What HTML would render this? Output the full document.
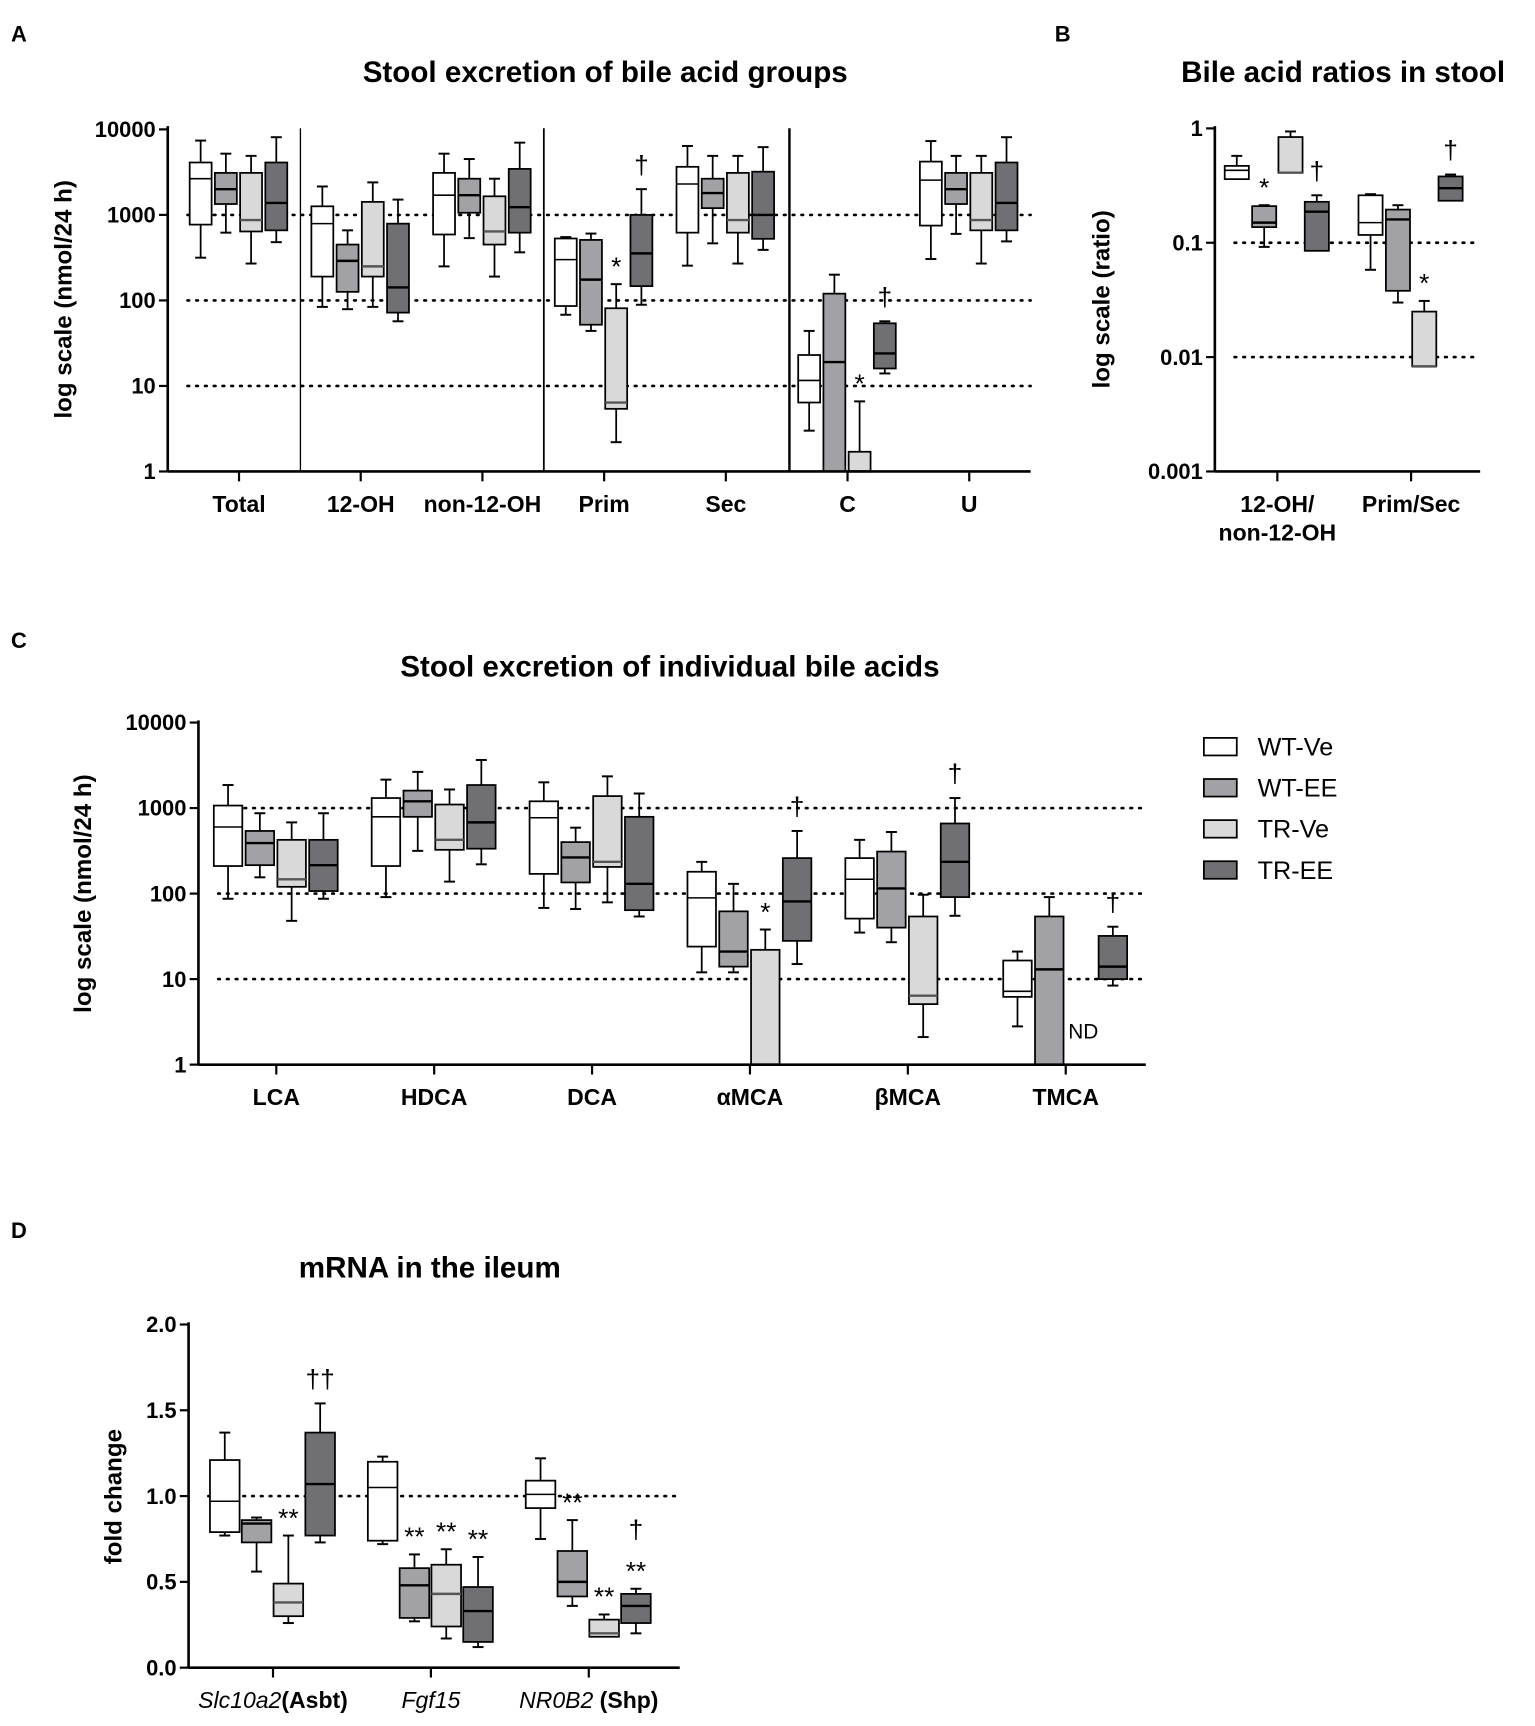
<!DOCTYPE html>
<html><head><meta charset="utf-8"><style>
html,body{margin:0;padding:0;background:#fff;}
svg{display:block;font-family:"Liberation Sans",Arial,sans-serif;}
</style></head><body>
<svg id="fig" width="1535" height="1726" viewBox="0 0 1400 1574.2" xmlns="http://www.w3.org/2000/svg">
<g id="static" font-weight="bold" fill="#000">
<text x="10" y="38" font-size="20">A</text>
<text x="962" y="38" font-size="20">B</text>
<text x="10" y="591" font-size="20">C</text>
<text x="10" y="1129" font-size="20">D</text>
<text x="552" y="75" font-size="27" text-anchor="middle">Stool excretion of bile acid groups</text>
<text x="1225" y="75" font-size="27" text-anchor="middle">Bile acid ratios in stool</text>
<text x="611" y="617" font-size="27" text-anchor="middle">Stool excretion of individual bile acids</text>
<text x="392" y="1165" font-size="27" text-anchor="middle">mRNA in the ileum</text>
<text transform="translate(65,273) rotate(-90)" font-size="22" text-anchor="middle">log scale (nmol/24 h)</text>
<text transform="translate(1012,273) rotate(-90)" font-size="22" text-anchor="middle">log scale (ratio)</text>
<text transform="translate(83,815) rotate(-90)" font-size="22" text-anchor="middle">log scale (nmol/24 h)</text>
<text transform="translate(111,1365) rotate(-90)" font-size="22" text-anchor="middle">fold change</text>
</g>
<g id="plots"></g>
</svg>
<script>
// ---------- Panel A data [min,q1,median,q3,max] ----------
const aCategories = ["Total","12-OH","non-12-OH","Prim","Sec","C","U"];
const aWtVe = [[316,770,2650,4100,7400],[84,190,790,1260,2150],[250,590,1700,3100,5200],[68,86,300,530,550],[255,620,2300,3650,6400],[3,6.4,11.6,23,44],[305,750,2550,4200,7300]];
const aWtEe = [[620,1340,2000,3100,5200],[79,126,290,450,660],[535,1060,1700,2650,4500],[44,52,175,510,605],[465,1200,1800,2650,4900],[0.5,0.5,19,120,200],[600,1340,2000,3100,4900]];
const aTrVe = [[270,640,870,3100,4900],[84,190,250,1420,2400],[190,450,640,1650,2650],[2.2,5.4,6.4,81,155],[270,620,870,3100,4900],[0.3,0.3,0.3,1.7,6.6],[270,660,870,3100,4900]];
const aTrEe = [[480,660,1380,4100,8100],[57,72,142,790,1510],[365,620,1230,3450,7000],[89,147,355,1000,2000],[390,525,1000,3200,6200],[14,16,24,54,57],[490,660,1380,4100,8100]];
const aTicks = [1,10,100,1000,10000];
const aMarks = [[3,2,"*",0],[3,3,"†",0],[5,2,"*",0],[5,3,"†",0]]; // [category, series, symbol, extra lift]

// ---------- Panel B ----------
const bCategories = ["12-OH/|non-12-OH","Prim/Sec"];
const bWtVe = [[0.36,0.36,0.43,0.47,0.575],[0.058,0.117,0.15,0.26,0.266]];
const bWtEe = [[0.092,0.137,0.15,0.209,0.213],[0.030,0.038,0.16,0.195,0.213]];
const bTrVe = [[0.41,0.41,0.41,0.84,0.94],[0.0083,0.0083,0.0083,0.025,0.031]];
const bTrEe = [[0.085,0.085,0.187,0.228,0.26],[0.233,0.233,0.30,0.38,0.395]];
const bTicks = [0.001,0.01,0.1,1];
const bTickLabels = ["0.001","0.01","0.1","1"];
const bMarks = [[0,1,"*",0],[0,3,"†",0],[1,2,"*",0],[1,3,"†",0]];

// ---------- Panel C ----------
const cCategories = ["LCA","HDCA","DCA","αMCA","βMCA","TMCA"];
const cWtVe = [[87,210,600,1070,1860],[91,210,790,1310,2150],[68,170,770,1200,2000],[12,24,89,180,235],[35,51,147,260,425],[2.8,6.2,7.2,16.5,21]];
const cWtEe = [[155,215,390,540,870],[316,790,1200,1600,2650],[66,135,265,400,590],[12,14,21,62,130],[27,40,115,310,525],[0.5,0.5,13,54,91]];
const cTrVe = [[48,120,147,425,680],[138,325,425,1100,1650],[79,205,235,1380,2350],[0.3,0.3,0.3,22,38],[2.1,5.1,6.4,54,97],null];
const cTrEe = [[87,107,215,425,870],[220,335,680,1860,3650],[54,64,130,790,1480],[15,28,81,260,540],[55,91,235,660,1310],[8.4,10,14,32,41]];
const cTicks = [1,10,100,1000,10000];
const cMarks = [[3,2,"*",0],[3,3,"†",0],[4,3,"†",0],[5,3,"†",0]];

// ---------- Panel D ----------
const dCategories = ["Slc10a2","Fgf15","NR0B2"];
const dSuffix = ["(Asbt)",""," (Shp)"];
const dWtVe = [[0.77,0.79,0.97,1.21,1.37],[0.72,0.74,1.05,1.2,1.23],[0.75,0.93,1.01,1.09,1.22]];
const dWtEe = [[0.56,0.73,0.84,0.86,0.875],[0.27,0.29,0.48,0.58,0.66],[0.36,0.415,0.5,0.68,0.86]];
const dTrVe = [[0.26,0.30,0.38,0.49,0.77],[0.17,0.24,0.43,0.6,0.69],[0.18,0.18,0.2,0.28,0.31]];
const dTrEe = [[0.73,0.77,1.07,1.37,1.54],[0.12,0.15,0.33,0.47,0.645],[0.2,0.26,0.36,0.43,0.46]];
const dTicks = [0,0.5,1,1.5,2];
const dTickLabels = ["0.0","0.5","1.0","1.5","2.0"];
const dMarks = [[0,2,"**",0],[0,3,"††",0],[1,1,"**",0],[1,2,"**",0],[1,3,"**",0],[2,1,"**",0],[2,2,"**",0],[2,3,"**",0],[2,3,"†",32]];

const seriesNames = ["WT-Ve","WT-EE","TR-Ve","TR-EE"];
const fills = ["#ffffff","#a2a2a6","#d9d9d9","#707074"];
const NS = "http://www.w3.org/2000/svg";
const root = document.getElementById("plots");

function mk(tag, attrs, parent){
  const e = document.createElementNS(NS, tag);
  for (const k in attrs) e.setAttribute(k, attrs[k]);
  (parent||root).appendChild(e);
  return e;
}
function txt(x,y,s,size,anchor,parent,weight){
  const t = mk("text",{x:x,y:y,"font-size":size,"text-anchor":anchor||"middle","font-weight":weight||"bold"},parent);
  t.textContent = s; return t;
}

function panel(cfg){
  const g = mk("g",{});
  
  
  const y = cfg.y, x = cfg.x;
  cfg.refs.forEach(function(v){
    const l = mk("line",{x1:cfg.x0+18,x2:cfg.x1,y1:y(v),y2:y(v),stroke:"#000","stroke-width":2.4,"stroke-dasharray":"1.5 6.5","stroke-linecap":"round"},g);
    
    
  });
  (cfg.seps||[]).forEach(function(s){
    const l = mk("line",{x1:s[0],x2:s[0],y1:cfg.yTop,y2:cfg.yBot,stroke:"#000","stroke-width":s[1]},g);
    
    
  });
  cfg.series.forEach(function(ser, si){
    ser.forEach(function(d, ci){
      if(!d) return;
      const cx = x(ci) + cfg.offs[si], w = cfg.bw;
      const bg = mk("g",{},g);
      
      
      const ymin=y(d[0]), yq1=y(d[1]), ymed=y(d[2]), yq3=y(d[3]), ymax=y(d[4]);
      mk("line",{x1:cx,x2:cx,y1:ymax,y2:yq3,stroke:"#000","stroke-width":1.6},bg);
      mk("line",{x1:cx-5,x2:cx+5,y1:ymax,y2:ymax,stroke:"#000","stroke-width":1.8},bg);
      if(ymin>yq1+0.5){
        mk("line",{x1:cx,x2:cx,y1:yq1,y2:ymin,stroke:"#000","stroke-width":1.6},bg);
        mk("line",{x1:cx-5,x2:cx+5,y1:ymin,y2:ymin,stroke:"#000","stroke-width":1.8},bg);
      }
      mk("rect",{x:cx-w/2,y:yq3,width:w,height:Math.max(1,yq1-yq3),fill:fills[si],stroke:"#000","stroke-width":1.6},bg);
      mk("line",{x1:cx-w/2,x2:cx+w/2,y1:ymed,y2:ymed,stroke:si==2?"#555":"#000","stroke-width":si==0?1.4:2.2},bg);
    });
  });
  cfg.marks.forEach(function(m){
    const d = cfg.series[m[1]][m[0]];
    const cx = x(m[0]) + cfg.offs[m[1]];
    const t = txt(cx, y(d[4]) - (m[2].indexOf("†")>=0?14:8) - m[3], m[2], 24, "middle", g, "normal");
    
    
  });
  mk("line",{x1:cfg.x0,x2:cfg.x0,y1:cfg.yTop-2,y2:cfg.yBot,stroke:"#000","stroke-width":2.4},g);
  mk("line",{x1:cfg.x0,x2:cfg.x1,y1:cfg.yBot,y2:cfg.yBot,stroke:"#000","stroke-width":2.4},g);
  cfg.ticks.forEach(function(v,i){
    mk("line",{x1:cfg.x0-8,x2:cfg.x0,y1:y(v),y2:y(v),stroke:"#000","stroke-width":2},g);
    const t = txt(cfg.x0-11, y(v)+7, cfg.tickLabels? cfg.tickLabels[i] : String(v), 20, "end", g);
    
    
  });
  cfg.cats.forEach(function(c,i){
    mk("line",{x1:x(i),x2:x(i),y1:cfg.yBot,y2:cfg.yBot+9,stroke:"#000","stroke-width":2},g);
    const t = cfg.catLabel ? cfg.catLabel(c,i,g) : null;
    if(!t){
      c.split("|").forEach(function(p,j){
        const tt = txt(x(i), cfg.yBot+37+j*26, p, 21, "middle", g);
        
        
      });
    }
  });
}

function logY(bot, dec, base){ return function(v){ return Math.min(bot, bot - dec*(Math.log10(v)-base)); }; }

panel({name:"panel-a", cats:aCategories, series:[aWtVe,aWtEe,aTrVe,aTrEe],
  x:function(i){return 218+111*i;}, y:logY(430,78,0), offs:[-35,-12,11,34], bw:20,
  x0:153,x1:940,yTop:117,yBot:430, refs:[10,100,1000], ticks:aTicks, marks:aMarks,
  seps:[[274,1.2],[496,1.6],[720,2.2]]});

panel({name:"panel-b", cats:bCategories, series:[bWtVe,bWtEe,bTrVe,bTrEe],
  x:function(i){return 1165+122*i;}, y:logY(430,104.3,-3), offs:[-37,-12,12,36], bw:22,
  x0:1108,x1:1350,yTop:117,yBot:430, refs:[0.01,0.1], ticks:bTicks, tickLabels:bTickLabels, marks:bMarks});

panel({name:"panel-c", cats:cCategories, series:[cWtVe,cWtEe,cTrVe,cTrEe],
  x:function(i){return 252+144*i;}, y:logY(971,78,0), offs:[-44,-15,14,43], bw:26,
  x0:181,x1:1045,yTop:659,yBot:971, refs:[10,100,1000], ticks:cTicks, marks:cMarks,
  catLabel:function(c,i,g){
    const t = txt(252+144*i, 1008, c, 21, "middle", g);
    
    
    return t;
  }});
txt(988, 947, "ND", 19, "middle", root, "normal");

panel({name:"panel-d", cats:dCategories, series:[dWtVe,dWtEe,dTrVe,dTrEe],
  x:function(i){return 249+144*i;}, y:function(v){return 1521-156.5*v;}, offs:[-44,-15,14,43], bw:27,
  x0:172,x1:620,yTop:1208,yBot:1521, refs:[1], ticks:dTicks, tickLabels:dTickLabels, marks:dMarks,
  catLabel:function(c,i,g){
    const t = mk("text",{x:249+144*i,y:1558,"font-size":21,"text-anchor":"middle"},g);
    
    
    const a = mk("tspan",{"font-style":"italic"},t); a.textContent = c;
    if(dSuffix[i]){ const b = mk("tspan",{"font-weight":"bold"},t); b.textContent = dSuffix[i]; }
    return t;
  }});

const lg = mk("g",{});


seriesNames.forEach(function(n,i){
  const yy = 681 + 37.5*i;
  const r = mk("rect",{x:1098,y:yy-8,width:30,height:16,fill:fills[i],stroke:"#000","stroke-width":1.6},lg);
  
  
  const t = txt(1147, yy+8, n, 23, "start", lg, "normal");
  
  
});
</script>
</body></html>
